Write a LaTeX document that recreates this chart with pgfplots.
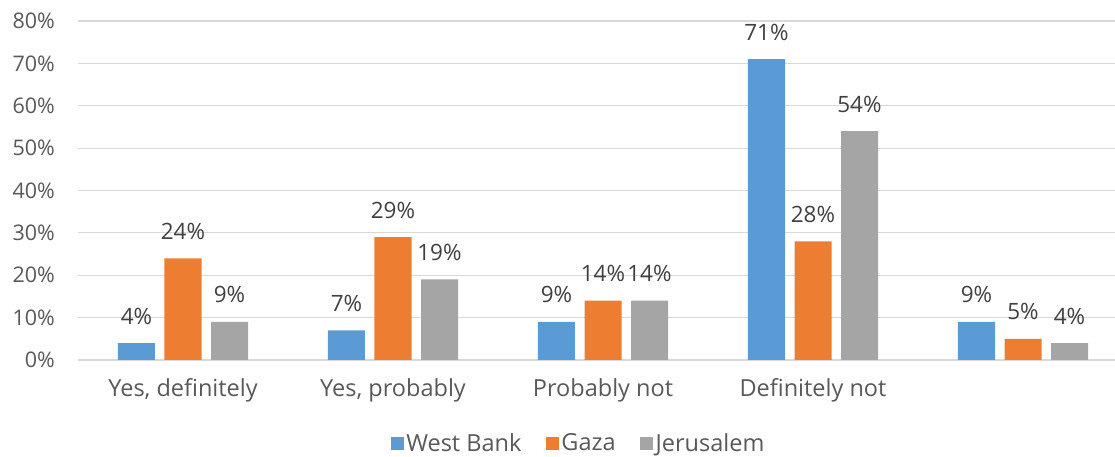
\documentclass[border=0pt]{standalone}
\usepackage{pgfplots}
\pgfplotsset{compat=1.18}
\usepackage{fontspec}
\setmainfont{Open Sans}
\definecolor{cWB}{HTML}{5B9BD5}
\definecolor{cGZ}{HTML}{ED7D31}
\definecolor{cJR}{HTML}{A5A5A5}
\definecolor{cGrid}{HTML}{D9D9D9}
\definecolor{cTick}{HTML}{595959}
\definecolor{cLab}{HTML}{404040}
\begin{document}
\begin{tikzpicture}
\useasboundingbox (0,0) rectangle (1115bp,457bp);
\begin{axis}[
  at={(78bp,97bp)}, anchor=south west,
  scale only axis, width=1037bp, height=339bp,
  xmin=-0.5, xmax=4.438, ymin=0, ymax=80,
  ybar=9.5bp, bar width=37bp,
  axis lines*=left,
  y axis line style={draw=none},
  x axis line style={draw=cGrid, line width=1.2bp},
  ymajorgrids, grid style={draw=cGrid, line width=1.2bp},
  major tick length=0pt,
  xtick={0,1,2,3,4},
  xticklabels={{Yes, definitely},{Yes, probably},{Probably not},{Definitely not},{}},
  ytick={0,10,20,30,40,50,60,70,80},
  yticklabels={0\%,10\%,20\%,30\%,40\%,50\%,60\%,70\%,80\%},
  xticklabel style={anchor=base, yshift=-36bp, font=\fontsize{23.5bp}{28bp}\selectfont, text=cTick},
  yticklabel style={anchor=east, inner sep=0pt, xshift=-23bp, font=\fontsize{21.5bp}{26bp}\selectfont, text=cTick},
  nodes near coords={\pgfmathprintnumber[assume math mode=true]{\pgfplotspointmeta}\%},
  every node near coord/.append style={anchor=base, yshift=19bp, inner sep=0pt, font=\fontsize{22.5bp}{27bp}\selectfont, text=cLab},
  legend columns=-1,
  legend style={draw=none, at={(0.483,-0.245)}, anchor=center,
    font=\fontsize{23.5bp}{28bp}\selectfont, text=cTick,
    /tikz/every even column/.append style={column sep=22bp},
    nodes={inner sep=2.5bp}},
  legend image code/.code={\fill[#1] (0bp,-6.5bp) rectangle (13bp,6.5bp);},
]
\addplot[fill=cWB, draw=none] coordinates {(0,4) (1,7) (2,9) (3,71) (4,9)};
\addplot[fill=cGZ, draw=none] coordinates {(0,24) (1,29) (2,14) (3,28) (4,5)};
\addplot[fill=cJR, draw=none] coordinates {(0,9) (1,19) (2,14) (3,54) (4,4)};
\legend{West Bank, Gaza, Jerusalem}
\end{axis}
\end{tikzpicture}
\end{document}
